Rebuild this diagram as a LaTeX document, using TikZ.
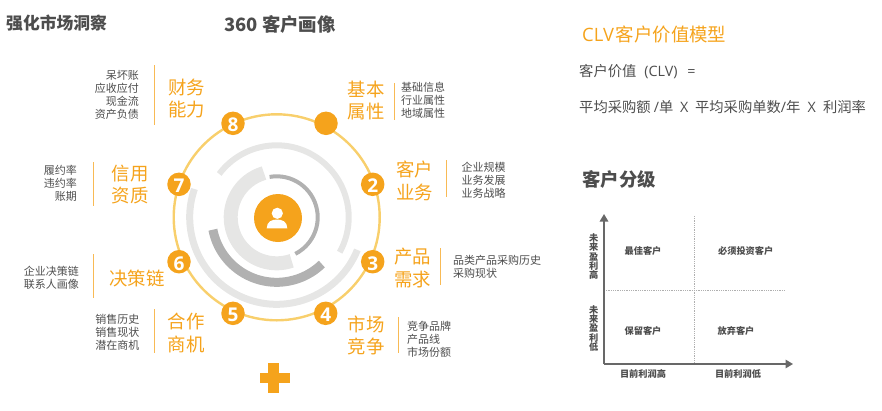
\documentclass[tikz,border=0pt]{standalone}
\usepackage{fontspec}
\setmainfont{Noto Sans CJK SC}
\newfontfamily\digitfont{Open Sans}
\usetikzlibrary{calc,arrows.meta}
\definecolor{amber}{HTML}{F5A31C}
\definecolor{amberlight}{HTML}{F8CF6C}
\definecolor{ringlight}{HTML}{E6E6E5}
\definecolor{ringdark}{HTML}{B1B1B1}
\definecolor{inkdark}{HTML}{4D4D4D}
\def\ringarc[#1](#2:#3:#4){\draw[#1] ($(hub)+(#2:#4)$) arc (#2:#3:#4);}
\tikzset{
	badge/.style={circle, fill=amber, minimum size=23.5pt, inner sep=0pt, text=white, text height=17pt, text depth=0pt, font=\digitfont\bfseries\fontsize{19}{19}\selectfont},
	topic/.style={inner sep=0pt, align=center, text=amber, font=\fontsize{18.4}{22.6}\selectfont},
	detail/.style={inner sep=0pt, text=inkdark, font=\fontsize{11}{13}\selectfont},
	heading/.style={inner sep=0pt, anchor=west, font=\bfseries\fontsize{18.4}{22}\selectfont},
	plain/.style={inner sep=0pt, anchor=west, text=inkdark, font=\fontsize{14.3}{17}\selectfont},
	cell/.style={inner sep=0pt, text=inkdark, font=\bfseries\fontsize{9.2}{9.4}\selectfont, align=center},
	divider/.style={draw=amber!75, line width=1pt},
	gridline/.style={inkdark!45, densely dotted, line width=0.8pt},
	axis/.style={inkdark!85, line width=1.5pt, -{Triangle[length=7.5pt,width=8.5pt]}},
}
\begin{document}
\begin{tikzpicture}[x=1pt,y=1pt]
	\useasboundingbox (0,0) rectangle (882,-410);
	%%%%% headings %%%%%
	\node[heading, text=inkdark, font=\bfseries\fontsize{16.8}{20}\selectfont] (insight) at (6,-23) {强化市场洞察};
	\node[heading, text=inkdark] (portrait) at (224,-24) {360 客户画像};
	\node[heading, text=amber, font=\fontsize{18.4}{22}\selectfont] (clv) at (582,-34) {{\digitfont CLV}\hspace{2pt}客户价值模型};
	\node[plain] (clvname) at (579,-72) {客户价值\hspace{8pt}{\digitfont (CLV)\hspace{6pt} =}};
	\node[plain] (clvformula) at (579,-107) {平均采购额 {\digitfont /}单\hspace{3.5pt} {\digitfont X} \hspace{3.5pt}平均采购单数{\digitfont /}年\hspace{4pt} {\digitfont X} \hspace{4pt}利润率};
	\node[heading, text=inkdark] (grading) at (582,-179) {客户分级};

	%%%%% rings %%%%%
	\coordinate (hub) at (276.7,-217.3);
	\draw[amberlight, line width=2.4pt] (hub) circle (103);
	\ringarc[ringlight, line width=6pt](143:-29:72);
	\ringarc[ringlight, line width=7pt](-22:-199:87);
	\ringarc[ringlight, line width=14pt](106:289:46);
	\ringarc[ringdark, line width=4pt](100:-63:41);
	\ringarc[ringdark, line width=9pt](191:314:65);
	\node[circle, fill=amber, minimum size=48pt, inner sep=0pt] (core) at (278,-218) {};
	\fill[white] (277.3,-213.3) circle (5.6);
	\fill[white] (266.7,-228.3) .. controls (266.7,-221.5) and (272,-219.5) .. (277,-219.5) .. controls (282,-219.5) and (287.3,-221.5) .. (287.3,-228.3) -- cycle;

	%%%%% badges %%%%%
	\node[badge] (b1) at (326,-123.3) {};
	\node[badge] (b2) at (372.7,-184.3) {2};
	\node[badge] (b3) at (372.7,-261.7) {3};
	\node[badge] (b4) at (325.7,-313.3) {4};
	\node[badge] (b5) at (233,-313.3) {5};
	\node[badge] (b6) at (179,-261.7) {6};
	\node[badge] (b7) at (179,-184.3) {7};
	\node[badge] (b8) at (233,-123.3) {8};

	%%%%% left side %%%%%
	\node[topic] (finance) at (186.5,-98.5) {财务\\能力};
	\draw[divider] (154,-65) -- (154,-125);
	\node[detail, anchor=east, align=right] (financetext) at (139,-94.5) {呆坏账\\应收应付\\现金流\\资产负债};

	\node[topic] (credit) at (130,-184.5) {信用\\资质};
	\draw[divider] (93.5,-162) -- (93.5,-206);
	\node[detail, anchor=east, align=right] (credittext) at (77,-183.5) {履约率\\违约率\\账期};

	\node[topic] (chain) at (137,-278) {决策链};
	\draw[divider] (93.5,-254) -- (93.5,-298);
	\node[detail, anchor=east, align=right] (chaintext) at (79,-278) {企业决策链\\联系人画像};

	\node[topic] (deal) at (186,-333) {合作\\商机};
	\draw[divider] (154,-309) -- (154,-353);
	\node[detail, anchor=east, align=right] (dealtext) at (139.5,-332) {销售历史\\销售现状\\潜在商机};

	%%%%% right side %%%%%
	\node[topic] (basic) at (366,-100.5) {基本\\属性};
	\draw[divider] (394.7,-83) -- (394.7,-120);
	\node[detail, anchor=west, align=left] (basictext) at (401,-100.3) {基础信息\\行业属性\\地域属性};

	\node[topic] (client) at (414.5,-181) {客户\\业务};
	\draw[divider] (446,-160) -- (446,-197);
	\node[detail, anchor=west, align=left] (clienttext) at (461.5,-180) {企业规模\\业务发展\\业务战略};

	\node[topic] (product) at (412.5,-268) {产品\\需求};
	\draw[divider] (440.5,-248) -- (440.5,-285);
	\node[detail, anchor=west, align=left] (producttext) at (453,-267.2) {品类产品采购历史\\采购现状};

	\node[topic] (market) at (366,-335.5) {市场\\竞争};
	\draw[divider] (398.5,-317) -- (398.5,-353);
	\node[detail, anchor=west, align=left] (markettext) at (407,-339.7) {竞争品牌\\产品线\\市场份额};

	%%%%% plus %%%%%
	\fill[amber] (268,-363) rectangle (279,-393);
	\fill[amber] (259.5,-373) rectangle (290,-383);

	%%%%% grid %%%%%
	\coordinate (origin) at (604,-364);
	\coordinate (ytop) at (604,-214);
	\coordinate (xend) at (793,-364);
	\draw[gridline] (694.3,-216) -- (694.3,-365);
	\draw[gridline] (604,-290.7) -- (785,-290.7);
	\draw[axis] (origin) -- (ytop);
	\draw[axis] (origin) -- (xend);
	\node[cell] (best) at (643,-251) {最佳客户};
	\node[cell] (invest) at (745.7,-251) {必须投资客户};
	\node[cell] (keep) at (643,-331) {保留客户};
	\node[cell] (drop) at (736,-331) {放弃客户};
	\node[cell] (lowx) at (643,-374.3) {目前利润高};
	\node[cell] (highx) at (738,-374.3) {目前利润低};
	\node[cell] (highy) at (593.7,-256.5) {未\\来\\盈\\利\\高};
	\node[cell] (lowy) at (593.7,-328.5) {未\\来\\盈\\利\\低};
\end{tikzpicture}
\end{document}
